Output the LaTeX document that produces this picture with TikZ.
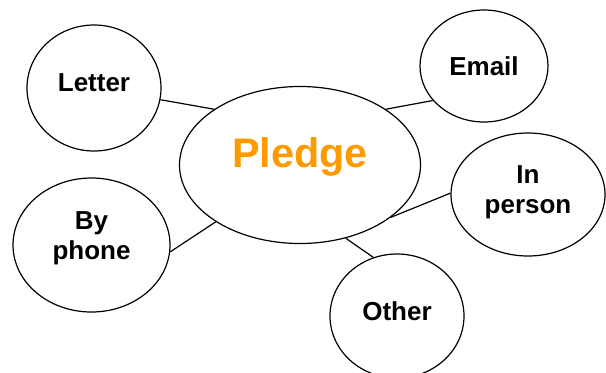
\documentclass[tikz,border=0pt]{standalone}
\usepackage{fontspec}
\setmainfont{Liberation Sans}
\usetikzlibrary{shapes.geometric}
\definecolor{pledgeorange}{HTML}{FF9900}
\begin{document}
\begin{tikzpicture}[x=0.75pt, y=-0.75pt,
        bubble/.style={ellipse, draw, line width=0.9pt, align=center,
            font=\fontsize{19.5}{22.5}\selectfont\bfseries}]
        % Keep the page the size of the picture
        \useasboundingbox (0,0) rectangle (606,372);

        % The central idea
        \node[bubble, minimum width=180.75pt, minimum height=117.75pt, text depth=18pt,
            text=pledgeorange, font=\fontsize{31}{36}\selectfont\bfseries] (pledge) at (300,165) {Pledge};

        % The ways of pledging around it
        \node[bubble, minimum width=100.5pt, minimum height=94.5pt, text depth=8.4pt] (letter) at (94,88) {Letter};
        \node[bubble, minimum width=96pt, minimum height=84pt] (email) at (484,66) {Email};
        \node[bubble, minimum width=117.75pt, minimum height=100.5pt, text depth=14pt] (phone) at (91.5,245) {By\\phone};
        \node[bubble, minimum width=115.5pt, minimum height=92.25pt, text depth=8pt] (person) at (528,194.5) {In\\person};
        \node[bubble, minimum width=100.5pt, minimum height=93pt, text depth=8pt] (other) at (397,316) {Other};

        % Connect each one to the central idea
        \foreach \name/\a/\b in {letter/-10/147, email/214/33, phone/-5/214, person/179/-30, other/112/-58} {
            \draw[line width=0.9pt] (\name.\a) -- (pledge.\b);
            }
    \end{tikzpicture}
\end{document}
